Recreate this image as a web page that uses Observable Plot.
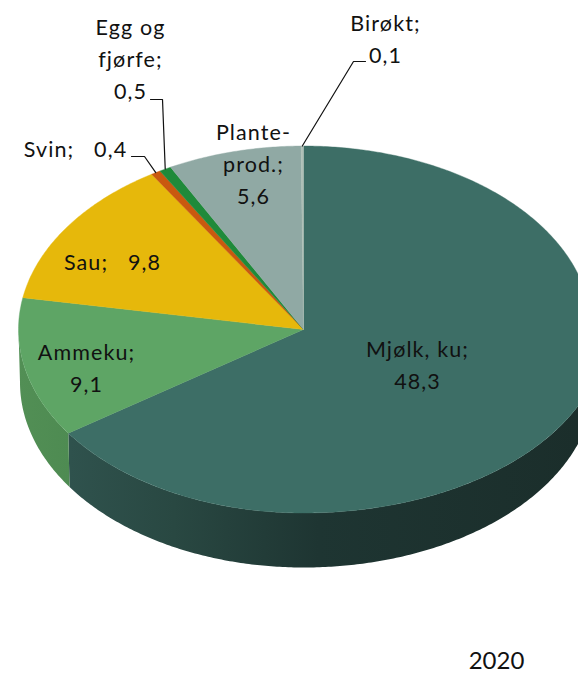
<!DOCTYPE html>
<html><head><meta charset="utf-8">
<script src="https://cdn.jsdelivr.net/npm/d3@7"></script>
<script src="https://cdn.jsdelivr.net/npm/@observablehq/plot@0.6"></script>
<style>html,body{margin:0;padding:0;background:#fff}svg{display:block}.lab text{letter-spacing:1.1px}</style>
</head><body>
<script>
const names = ["Mjølk, ku","Ammeku","Sau","Svin","Egg og fjørfe","Planteprod.","Birøkt"];
const values = [48.3,9.1,9.8,0.4,0.5,5.6,0.1];
const labelTexts = ["Mjølk, ku;\n48,3","Ammeku;\n9,1","Sau;\u00a0\u00a0\u00a09,8","Svin;\u00a0\u00a0\u00a00,4","Egg og\nfjørfe;\n0,5","Plante-\nprod.;\n5,6","Birøkt;\n0,1"];
const topColors = ["#3d6e66","#5ea565","#e6b80b","#c9590f","#1f8a3a","#90a9a4","#aebfb6"];

const W=578,H=673;
const C={x:303,y:329};
const TOP={rxL:285,rxUR:288,rxLR:302,ry:183.5,dz:0};
const BASE={rxL:283.5,rxUR:291,rxLR:291,ry:185,dz:53};
const pt=(a,e)=>{const s=Math.sin(a),c=Math.cos(a);
  const rx=s<0?e.rxL:(c>0?e.rxUR:e.rxLR);
  return [C.x+rx*s,C.y+e.dz-e.ry*c];};
const arcs=d3.pie().sort(null).value(d=>d)(values);
const span=(a0,a1)=>{const n=Math.max(2,Math.ceil((a1-a0)/0.01));return d3.range(n+1).map(i=>a0+(a1-a0)*i/n);};

const faces=arcs.flatMap((s,i)=>[[C.x,C.y],...span(s.startAngle,s.endAngle).map(a=>pt(a,TOP)),[C.x,C.y]]
  .map(p=>({x:p[0],y:p[1],name:names[i]})));
const side=(name,a0,a1)=>[...span(a0,a1).map(a=>pt(a,TOP)),...span(a0,a1).reverse().map(a=>pt(a,BASE))]
  .map(p=>({x:p[0],y:p[1],name}));
const PI=Math.PI;
const sideM=side("m",PI/2+0.001,arcs[0].endAngle);
const sideA=side("a",arcs[0].endAngle,1.5*PI);

const edge=i=>pt((arcs[i].startAngle+arcs[i].endAngle)/2,TOP);
const leaders=[
  [[150,99],[162,99],edge(4)],
  [[131,156],[144,156],edge(3)],
  [[365,61],[353,61],edge(6)]
].flatMap((l,k)=>l.map(p=>({x:p[0],y:p[1],k})));

const labelPos=[[417,362],[86,365],[112,259],[75,146],[130,56],[253,161],[385,36]];
const labels=labelTexts.map((t,i)=>({t,x:labelPos[i][0],y:labelPos[i][1]}));

const defs=()=>{
  const s=d3.create("svg:defs");
  const grad=(id,stops)=>{const g=s.append("linearGradient").attr("id",id).attr("gradientUnits","userSpaceOnUse")
    .attr("x1",0).attr("x2",W).attr("y1",0).attr("y2",0);
    stops.forEach(([o,c])=>g.append("stop").attr("offset",o).attr("stop-color",c));};
  grad("sideM",[[0.12,"#2f524d"],[0.3,"#294842"],[0.55,"#1e3532"],[1,"#1b2e2b"]]);
  grad("sideA",[[0.03,"#528f55"],[0.12,"#4e8b52"]]);
  return s.node();
};

const plot=Plot.plot({
  width:W,height:H,margin:0,
  x:{domain:[0,W],range:[0,W],axis:null},
  y:{domain:[0,H],range:[0,H],axis:null},
  color:{domain:names,range:topColors},
  marks:[
    defs,
    Plot.line(sideM,{x:"x",y:"y",fill:"url(#sideM)",stroke:"none"}),
    Plot.line(sideA,{x:"x",y:"y",fill:"url(#sideA)",stroke:"none"}),
    Plot.line(faces,{x:"x",y:"y",z:"name",fill:"name",stroke:"name",strokeWidth:0.4}),
    Plot.line(leaders,{x:"x",y:"y",z:"k",stroke:"#111",strokeWidth:1.2}),
    Plot.text(labels,{x:"x",y:"y",text:"t",fontSize:21.5,fontFamily:"Lato",fill:"#111",lineHeight:1.5,textAnchor:"middle",lineAnchor:"middle",className:"lab"}),
    Plot.text(["2020"],{x:()=>496,y:()=>661,text:d=>d,fontSize:24,fontFamily:"Lato",fill:"#111",lineAnchor:"middle"})
  ]
});
document.body.appendChild(plot);
</script>
</body></html>
